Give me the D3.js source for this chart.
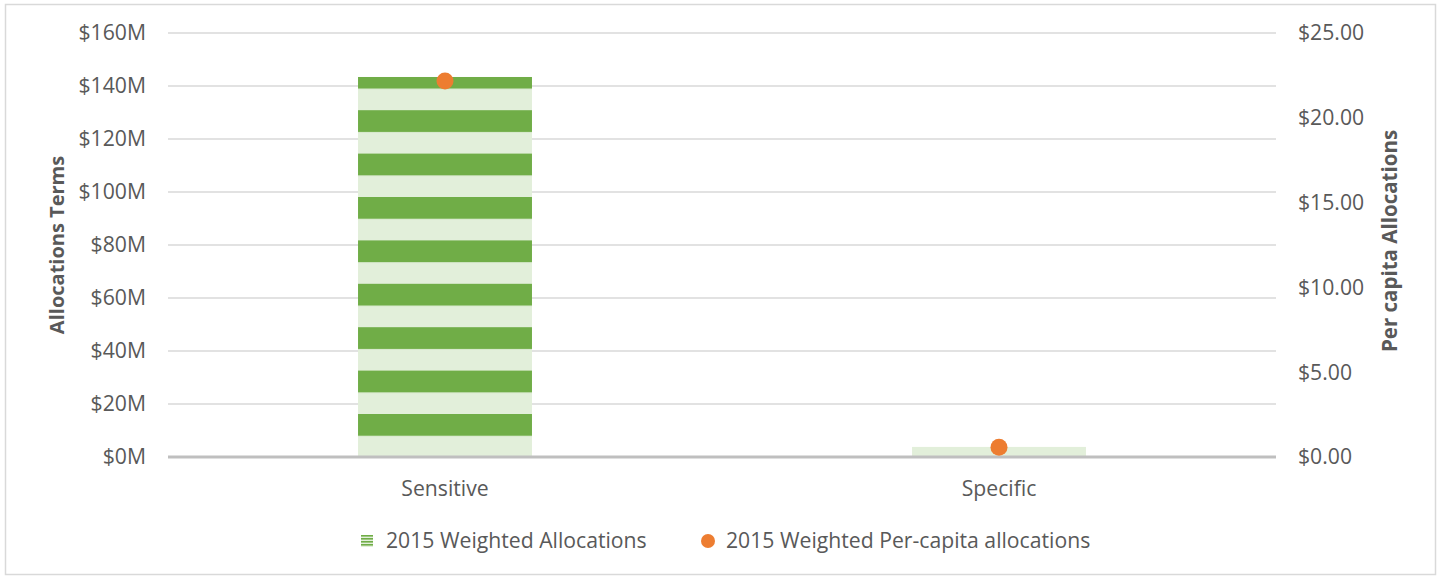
<!DOCTYPE html>
<html>
<head>
<meta charset="utf-8">
<script src="https://cdn.jsdelivr.net/npm/d3@7"></script>
<style>
  html, body { margin: 0; padding: 0; background: #fff; }
  svg text { font-family: "Open Sans", "Noto Sans", sans-serif; fill: #595959; }
</style>
</head>
<body>
<div id="chart"></div>
<script>
const categories = ["Sensitive", "Specific"];
const allocations = [143.4, 3.8];          // $M
const perCapita = [22.17, 0.57];           // $
const leftTicks = [0, 20, 40, 60, 80, 100, 120, 140, 160];
const rightTicks = [0, 5, 10, 15, 20, 25];
const seriesNames = ["2015 Weighted Allocations", "2015 Weighted Per-capita allocations"];

function renderChart() {
    const width = 1440;
    const height = 578;
    const plot = { left: 168, right: 1276, top: 33, bottom: 457 };
    const dark = "#70AD47";
    const light = "#E2EFDA";
    const orange = "#ED7D31";
    const fs = "21.2px";

    const svg = d3.select("#chart").append("svg")
        .attr("width", width)
        .attr("height", height);

    // outer frame
    svg.append("rect")
        .attr("x", 5.5).attr("y", 4.5)
        .attr("width", 1430).attr("height", 570)
        .attr("fill", "#fff")
        .attr("stroke", "#D9D9D9")
        .attr("stroke-width", 1.5);

    const x = d3.scaleBand().domain(categories).range([plot.left, plot.right]).paddingInner(0).paddingOuter(0);
    const yL = d3.scaleLinear().domain([0, 160]).range([plot.bottom, plot.top]);
    const yR = d3.scaleLinear().domain([0, 25]).range([plot.bottom, plot.top]);

    const defs = svg.append("defs");
    const pat = defs.append("pattern")
        .attr("id", "stripes")
        .attr("patternUnits", "userSpaceOnUse")
        .attr("x", 0).attr("y", 414)
        .attr("width", 10).attr("height", 43.4);
    pat.append("rect").attr("width", 10).attr("height", 43.4).attr("fill", light);
    pat.append("rect").attr("width", 10).attr("height", 21.8).attr("fill", dark);

    const legPat = defs.append("pattern")
        .attr("id", "legstripes")
        .attr("patternUnits", "userSpaceOnUse")
        .attr("x", 0).attr("y", 535)
        .attr("width", 10).attr("height", 3);
    legPat.append("rect").attr("width", 10).attr("height", 3).attr("fill", light);
    legPat.append("rect").attr("width", 10).attr("height", 1.6).attr("fill", dark);

    // gridlines
    svg.append("g")
        .selectAll("line")
        .data(leftTicks.filter(d => d > 0))
        .join("line")
        .attr("x1", plot.left).attr("x2", plot.right)
        .attr("y1", d => yL(d)).attr("y2", d => yL(d))
        .attr("stroke", "#D9D9D9")
        .attr("stroke-width", 1.5);

    // bars
    const barW = x.bandwidth() * 0.314;
    svg.append("g")
        .selectAll("rect")
        .data(categories)
        .join("rect")
        .attr("x", (d) => x(d) + (x.bandwidth() - barW) / 2)
        .attr("width", barW)
        .attr("y", (d, i) => yL(allocations[i]))
        .attr("height", (d, i) => yL(0) - yL(allocations[i]))
        .attr("fill", "url(#stripes)");

    // baseline
    svg.append("line")
        .attr("x1", plot.left).attr("x2", plot.right)
        .attr("y1", yL(0)).attr("y2", yL(0))
        .attr("stroke", "#BFBFBF")
        .attr("stroke-width", 3);

    // per-capita points
    svg.append("g")
        .selectAll("circle")
        .data(categories)
        .join("circle")
        .attr("cx", (d) => x(d) + x.bandwidth() / 2)
        .attr("cy", (d, i) => yR(perCapita[i]))
        .attr("r", 8.5)
        .attr("fill", orange);

    // left axis labels
    svg.append("g")
        .selectAll("text")
        .data(leftTicks)
        .join("text")
        .attr("x", 146)
        .attr("y", d => yL(d))
        .attr("dy", "0.35em")
        .attr("text-anchor", "end")
        .style("font-size", fs)
        .text(d => `$${d}M`);

    // right axis labels
    svg.append("g")
        .selectAll("text")
        .data(rightTicks)
        .join("text")
        .attr("x", 1298)
        .attr("y", d => yR(d))
        .attr("dy", "0.35em")
        .attr("text-anchor", "start")
        .style("font-size", fs)
        .text(d => `$${d.toFixed(2)}`);

    // category labels
    svg.append("g")
        .selectAll("text")
        .data(categories)
        .join("text")
        .attr("x", d => x(d) + x.bandwidth() / 2)
        .attr("y", 489)
        .attr("dy", "0.35em")
        .attr("text-anchor", "middle")
        .style("font-size", fs)
        .text(d => d);

    // axis titles
    svg.append("text")
        .attr("transform", `translate(57,${(plot.top + plot.bottom) / 2}) rotate(-90)`)
        .attr("text-anchor", "middle")
        .attr("dy", "0.35em")
        .style("font-size", "20px")
        .style("font-weight", "bold")
        .text("Allocations Terms");

    svg.append("text")
        .attr("transform", `translate(1390,${(plot.top + plot.bottom) / 2 - 4}) rotate(-90)`)
        .attr("text-anchor", "middle")
        .attr("dy", "0.35em")
        .style("font-size", "20.5px")
        .style("font-weight", "bold")
        .text("Per capita Allocations");

    // legend
    const leg = svg.append("g");
    leg.append("rect")
        .attr("x", 361).attr("y", 535)
        .attr("width", 12).attr("height", 12)
        .attr("fill", "url(#legstripes)");
    leg.append("text")
        .attr("x", 386).attr("y", 541)
        .attr("dy", "0.35em")
        .style("font-size", fs)
        .text(seriesNames[0]);
    leg.append("circle")
        .attr("cx", 708).attr("cy", 541)
        .attr("r", 7)
        .attr("fill", orange);
    leg.append("text")
        .attr("x", 726).attr("y", 541)
        .attr("dy", "0.35em")
        .style("font-size", fs)
        .text(seriesNames[1]);
}

renderChart();
</script>
</body>
</html>
